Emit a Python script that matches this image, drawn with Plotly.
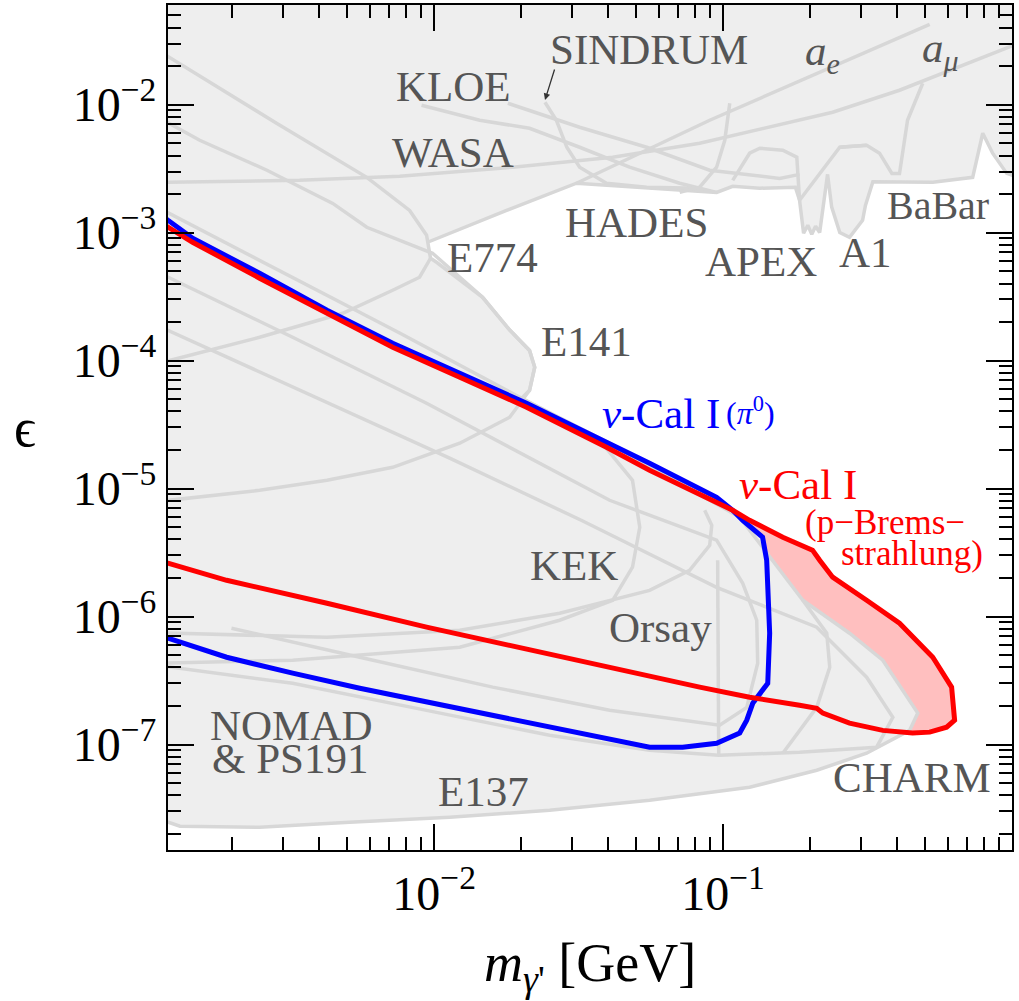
import plotly.graph_objects as go

# ---------------- data (m in GeV, eps) ----------------
X_RANGE = [1.2e-3, 1.0]
Y_RANGE = [1.5e-8, 0.06]

# nu-Cal I (pi0) contour
vcal_pi0_m = [1.15e-3, 1.2e-3, 1.46e-3, 2.49e-3, 4.26e-3, 7.19e-3, 0.01227, 0.0209, 0.0395, 0.0557, 0.095,
              0.108, 0.117, 0.137, 0.1416, 0.1428, 0.145, 0.1428, 0.134, 0.1267, 0.1208, 0.1142,
              0.095, 0.0725, 0.0557, 0.0374, 0.0251, 0.01595, 9.42e-3, 5.53e-3, 3.24e-3, 1.915e-3, 1.2e-3,
              1.15e-3]
vcal_pi0_eps = [1.32e-3, 1.248e-3, 9.03e-4, 4.81e-4, 2.47e-4, 1.365e-4, 7.96e-5, 4.64e-5, 2.3e-5, 1.58e-5, 8.55e-6,
                6.77e-6, 5.65e-6, 4.17e-6, 2.75e-6, 1.82e-6, 7.41e-7, 3.01e-7, 2.52e-7, 2.1e-7, 1.55e-7, 1.23e-7,
                1.024e-7, 9.53e-8, 9.53e-8, 1.14e-7, 1.365e-7, 1.69e-7, 2.14e-7, 2.75e-7, 3.61e-7, 4.81e-7, 6.77e-7,
                6.95e-7]

# nu-Cal I (p-Bremsstrahlung) contour
vcal_brems_m = [1.15e-3, 1.2e-3, 1.46e-3, 2.49e-3, 4.26e-3, 7.19e-3, 0.01227, 0.0209, 0.0395, 0.0557, 0.108,
                0.1236, 0.161, 0.204, 0.216, 0.2395, 0.314, 0.408, 0.532, 0.618, 0.633, 0.594, 0.519,
                0.453, 0.357, 0.274, 0.2215, 0.211, 0.184, 0.1236, 0.083, 0.0405, 0.0209, 9.42e-3,
                4.26e-3, 1.915e-3, 1.2e-3, 1.15e-3]
vcal_brems_eps = [1.17e-3, 1.10e-3, 8.4e-4, 4.4e-4, 2.34e-4, 1.27e-4, 7.41e-5, 4.32e-5, 2.1e-5, 1.39e-5, 6.77e-6,
                  5.65e-6, 4.17e-6, 3.3e-6, 2.75e-6, 2.03e-6, 1.34e-6, 8.87e-7, 4.81e-7, 2.81e-7, 1.55e-7,
                  1.365e-7, 1.25e-7, 1.23e-7, 1.29e-7, 1.47e-7, 1.76e-7, 1.92e-7, 2.03e-7, 2.34e-7, 2.81e-7,
                  4.02e-7, 5.65e-7, 8.26e-7, 1.27e-6, 1.92e-6, 2.61e-6, 2.66e-6]

# union of "top" constraints (a_e, a_mu, KLOE, WASA, HADES, APEX, A1, BaBar)
top_m = [1.15e-3, 1.05, 1.05, 0.959, 0.857, 0.792, 0.731, 0.532, 0.33, 0.311, 0.304, 0.274, 0.2535,
         0.2377, 0.230, 0.223, 0.216, 0.209, 0.2028, 0.1965, 0.190, 0.184, 0.178, 0.134,
         0.108, 0.095, 0.0589, 0.0311, 0.01782, 9.88e-3, 1.22e-3, 1.15e-3]
top_eps = [0.065, 0.065, 2.7e-3, 2.9e-3, 4.17e-3, 5.97e-3, 2.7e-3, 2.47e-3, 2.5e-3, 1.63e-3, 1.248e-3,
           9.19e-4, 1.0e-3, 1.58e-3, 2.85e-3, 1.79e-3, 1.0e-3, 1.12e-3, 9.7e-4, 1.14e-3, 9.88e-4, 1.79e-3,
           2.26e-3, 2.22e-3, 2.3e-3, 2.06e-3, 2.22e-3, 2.43e-3, 1.49e-3,
           8.71e-4, 1.365e-4, 1.365e-4]

# union of beam-dump constraints (E774, E141, E137, KEK, Orsay, CHARM, NOMAD, PS191)
dump_m = [1.15e-3, 2.85e-3, 5.85e-3, 8.23e-3, 9.42e-3, 9.72e-3, 0.0102, 0.01472, 0.01827, 0.0214, 0.0223,
          0.0214, 0.0201, 0.0405, 0.1142, 0.1888, 0.274, 0.357, 0.472, 0.442, 0.314, 0.211, 0.1236,
          0.0557, 0.0251, 0.01132, 5.1e-3, 2.49e-3, 1.32e-3, 1.15e-3]
dump_eps = [2.52e-2, 7.14e-3, 2.7e-3, 1.49e-3, 9.53e-4, 6.3e-4, 5.86e-4, 3.12e-4, 1.73e-4, 1.2e-4, 8.87e-5,
            5.86e-5, 5.07e-5, 2.26e-5, 5.97e-6, 1.34e-6, 7.41e-7, 4.56e-7, 1.76e-7, 1.29e-7, 8.55e-8, 6.3e-8,
            4.64e-8, 3.67e-8, 3.07e-8, 2.7e-8, 2.47e-8, 2.26e-8, 2.3e-8, 2.56e-8]

# individual grey exclusion curves
ae_m = [0.0311, 0.0899, 0.519]
ae_eps = [2.43e-3, 7.54e-3, 4.24e-2]
amu_m = [1.15e-3, 3.42e-3, 7.6e-3, 0.0187, 0.0415, 0.083, 0.2395, 0.408, 1.05]
amu_eps = [2.47e-3, 2.56e-3, 2.75e-3, 3.24e-3, 3.88e-3, 4.99e-3, 8.71e-3, 1.294e-2, 3.0e-2]
kloe_m = [9.05e-3, 0.01439, 0.0214, 0.0319, 0.0475, 0.0708, 0.095]
kloe_eps = [9.88e-3, 7.54e-3, 6.53e-3, 4.64e-3, 3.24e-3, 2.43e-3, 2.06e-3]
kloe2_m = [0.018, 0.0319, 0.0544, 0.0899, 0.157, 0.184]
kloe2_eps = [1.024e-2, 6.65e-3, 4.64e-3, 3.07e-3, 2.65e-3, 2.85e-3]
sindrum_m = [0.0242, 0.0265, 0.0288, 0.0319, 0.0395, 0.0544, 0.083]
sindrum_eps = [1.042e-2, 7.54e-3, 4.64e-3, 3.24e-3, 2.43e-3, 2.26e-3, 2.22e-3]
hades_m = [0.1055, 0.1014, 0.095, 0.083, 0.0708]
hades_eps = [1.024e-2, 5.26e-3, 3.24e-3, 2.26e-3, 2.06e-3]
apex_top_m = [0.108, 0.1236, 0.134, 0.161, 0.18, 0.184, 0.2535, 0.314]
apex_top_eps = [2.56e-3, 4.17e-3, 4.56e-3, 4.4e-3, 3.88e-3, 1.79e-3, 4.64e-3, 4.81e-3]
babar_u_m = [0.2535, 0.314, 0.348, 0.384, 0.408, 0.435, 0.491]
babar_u_eps = [4.64e-3, 4.81e-3, 4.17e-3, 2.9e-3, 2.9e-3, 7.54e-3, 1.467e-2]

e774_m = [9.72e-3, 8.91e-3, 7.19e-3, 4.83e-3, 2.49e-3, 1.15e-3]
e774_eps = [6.3e-4, 4.48e-4, 3.54e-4, 2.34e-4, 1.52e-4, 9.7e-5]
e141_m = [1.15e-3, 1.545e-3, 2.64e-3, 4.46e-3, 5.85e-3, 9.88e-3, 0.01472, 0.01827, 0.0214, 0.0223,
          0.0214, 0.01827, 0.01227, 7.19e-3, 4.26e-3, 2.49e-3, 1.15e-3]
e141_eps = [7.6e-3, 5.26e-3, 3.07e-3, 1.69e-3, 1.10e-3, 6.89e-4, 3.12e-4, 1.73e-4, 1.2e-4, 8.87e-5,
            5.86e-5, 3.61e-5, 2.26e-5, 1.466e-5, 1.16e-5, 9.7e-6, 8.0e-6]
kek_m = [1.15e-3, 7.6e-3, 0.0201, 0.0374, 0.0486, 0.0515, 0.0486, 0.0415, 0.0272, 0.01227, 3.24e-3, 1.15e-3]
kek_eps = [1.5e-3, 1.64e-4, 5.07e-5, 2.39e-5, 1.16e-5, 4.99e-6, 2.43e-6, 1.34e-6, 9.36e-7, 5.75e-7,
           4.56e-7, 4.32e-7]
orsay_m = [1.15e-3, 3.24e-3, 9.42e-3, 0.0405, 0.095, 0.117, 0.1308, 0.1318, 0.1208, 0.0973, 0.0405,
           0.01595, 5.53e-3, 1.99e-3]
orsay_eps = [4.7e-4, 1.52e-4, 4.64e-5, 8.1e-6, 3.95e-6, 1.82e-6, 9.36e-7, 4.32e-7, 1.95e-7, 1.415e-7,
             1.85e-7, 2.81e-7, 4.81e-7, 8.11e-7]
charm_m = [1.15e-3, 0.01132, 0.0323, 0.095, 0.211, 0.314, 0.387, 0.34, 0.184, 0.0966, 0.0557, 0.0251,
           9.42e-3, 3.24e-3, 1.15e-3]
charm_eps = [1.8e-4, 1.73e-5, 5.65e-6, 1.69e-6, 8.26e-7, 3.36e-7, 1.63e-7, 9.53e-8, 8.7e-8, 8.25e-8,
             9.03e-8, 1.18e-7, 1.85e-7, 3.01e-7, 4.1e-7]
nomad_m = [1.15e-3, 4.26e-3, 0.01227, 0.0272, 0.0557, 0.0766, 0.0899, 0.0914, 0.0864]
nomad_eps = [7.45e-7, 6.89e-7, 7.82e-7, 1.06e-6, 1.6e-6, 2.3e-6, 3.6e-6, 5.17e-6, 6.77e-6]
ps191_m = [0.1888, 0.2285, 0.234, 0.211, 0.161]
ps191_eps = [1.34e-6, 7.41e-7, 4.02e-7, 1.95e-7, 8.55e-8]
orsay_edge_m = [0.0958, 0.0966]
orsay_edge_eps = [2.75e-6, 8.25e-8]

x_tickvals = [0.01, 0.1, 1.0]
x_ticktext = ["10<sup>\u22122</sup>", "10<sup>\u22121</sup>", "1"]
y_tickvals = [1e-7, 1e-6, 1e-5, 1e-4, 1e-3, 1e-2]
y_ticktext = ["10<sup>\u2212%d</sup>" % k for k in (7, 6, 5, 4, 3, 2)]

# ---------------- styles ----------------
GREY_FILL = "#eeeeee"
GREY_LINE = "#d7d7d7"
LABEL = "#555555"
SERIF = "Liberation Serif, Times New Roman, serif"

fig = go.Figure()

# pink band = p-Brems region not covered by other limits
fig.add_trace(go.Scatter(x=vcal_brems_m, y=vcal_brems_eps, fill="toself", fillcolor="#ffbfbf",
                         mode="none", hoverinfo="skip"))
fig.add_trace(go.Scatter(x=vcal_pi0_m, y=vcal_pi0_eps, fill="toself", fillcolor=GREY_FILL,
                         mode="none", hoverinfo="skip"))
for xs, ys in [(top_m, top_eps), (dump_m, dump_eps)]:
    fig.add_trace(go.Scatter(x=xs, y=ys, fill="toself", fillcolor=GREY_FILL, mode="lines",
                             line=dict(color=GREY_LINE, width=3.5), hoverinfo="skip"))

for xs, ys in [(ae_m, ae_eps), (amu_m, amu_eps), (kloe_m, kloe_eps), (kloe2_m, kloe2_eps),
               (sindrum_m, sindrum_eps), (hades_m, hades_eps), (apex_top_m, apex_top_eps),
               (babar_u_m, babar_u_eps),
               (e774_m, e774_eps), (e141_m, e141_eps), (kek_m, kek_eps), (orsay_m, orsay_eps),
               (charm_m, charm_eps), (nomad_m, nomad_eps), (ps191_m, ps191_eps),
               (orsay_edge_m, orsay_edge_eps)]:
    fig.add_trace(go.Scatter(x=xs, y=ys, mode="lines", line=dict(color=GREY_LINE, width=3.5),
                             hoverinfo="skip"))

fig.add_trace(go.Scatter(x=vcal_pi0_m, y=vcal_pi0_eps, mode="lines", line=dict(color="#0000ff", width=5)))
fig.add_trace(go.Scatter(x=vcal_brems_m, y=vcal_brems_eps, mode="lines", line=dict(color="#ff0000", width=5)))


def label(text, px, py, size=43, color=LABEL, xanchor="center"):
    fig.add_annotation(text=text, x=px, y=py, xref="paper", yref="paper", showarrow=False,
                       xanchor=xanchor, yanchor="middle", font=dict(family=SERIF, size=size, color=color))


label("KLOE", 0.338, 0.903)
label("SINDRUM", 0.570, 0.947)
label("<i>a</i><sub><i>e</i></sub>", 0.775, 0.942)
label("<i>a</i><sub><i>\u03bc</i></sub>", 0.915, 0.945)
label("WASA", 0.338, 0.826)
label("HADES", 0.555, 0.743)
label("E774", 0.384, 0.701)
label("APEX", 0.703, 0.697)
label("A1", 0.826, 0.707)
label("BaBar", 0.912, 0.763, size=40)
label("E141", 0.496, 0.602)
label("KEK", 0.481, 0.337)
label("Orsay", 0.583, 0.263)
label("NOMAD", 0.146, 0.147)
label("&amp; PS191", 0.145, 0.108)
label("E137", 0.374, 0.069)
label("CHARM", 0.882, 0.086)
label("<i>\u03bd</i>-Cal I", (722 - 168) / 844, 0.517, color="#0000ff", xanchor="right")
label("(<i>\u03c0</i><sup>0</sup>)", (724 - 168) / 844, 0.520, size=32, color="#0000ff", xanchor="left")
label("<i>\u03bd</i>-Cal I", 0.746, 0.433, color="#ff0000")
label("(p\u2212Brems\u2212", 0.850, 0.387, size=35, color="#ff0000")
label("strahlung)", 0.882, 0.351, size=35, color="#ff0000")

# SINDRUM arrow
fig.add_annotation(x=(545 - 168) / 844, y=(850 - 100) / 845, xref="paper", yref="paper",
                   ax=10, ay=-32, showarrow=True, arrowhead=2, arrowsize=1, arrowwidth=1.3,
                   arrowcolor="#333333", text="")

# axis titles
label("\u03f5", -0.169, 0.499, size=54, color="black")
label("<i>m</i><sub><i>\u03b3</i>'</sub> [GeV]", 0.500, -0.138, size=54, color="black")

minor_x = [k * 10.0 ** e for e in (-3, -2, -1) for k in range(2, 10)]
minor_y = [k * 10.0 ** e for e in (-9, -8, -7, -6, -5, -4, -3, -2) for k in range(2, 10)]

axis_common = dict(type="log", showgrid=False, zeroline=False, showline=True, linecolor="black",
                   linewidth=2, mirror="allticks", ticks="inside", ticklen=26, tickwidth=2,
                   tickcolor="black", automargin=False,
                   tickfont=dict(family=SERIF, size=48, color="black"))

fig.update_xaxes(range=[-2.9208, 0.0], tickmode="array", tickvals=x_tickvals, ticktext=x_ticktext,
                 minor=dict(tickmode="array", tickvals=minor_x, ticks="inside", ticklen=13,
                            tickwidth=1.5, tickcolor="black"), **axis_common)
fig.update_yaxes(range=[-7.824, -1.222], tickmode="array", tickvals=y_tickvals, ticktext=y_ticktext,
                 minor=dict(tickmode="array", tickvals=minor_y, ticks="inside", ticklen=13,
                            tickwidth=1.5, tickcolor="black"), **axis_common)

fig.update_layout(width=1019, height=1001, showlegend=False, plot_bgcolor="white",
                  paper_bgcolor="white", margin=dict(l=168, r=7, t=5, b=151))

fig.write_html("out.html", config={"displayModeBar": False},
               post_script="document.body.style.margin='0';document.body.style.overflow='hidden';")
